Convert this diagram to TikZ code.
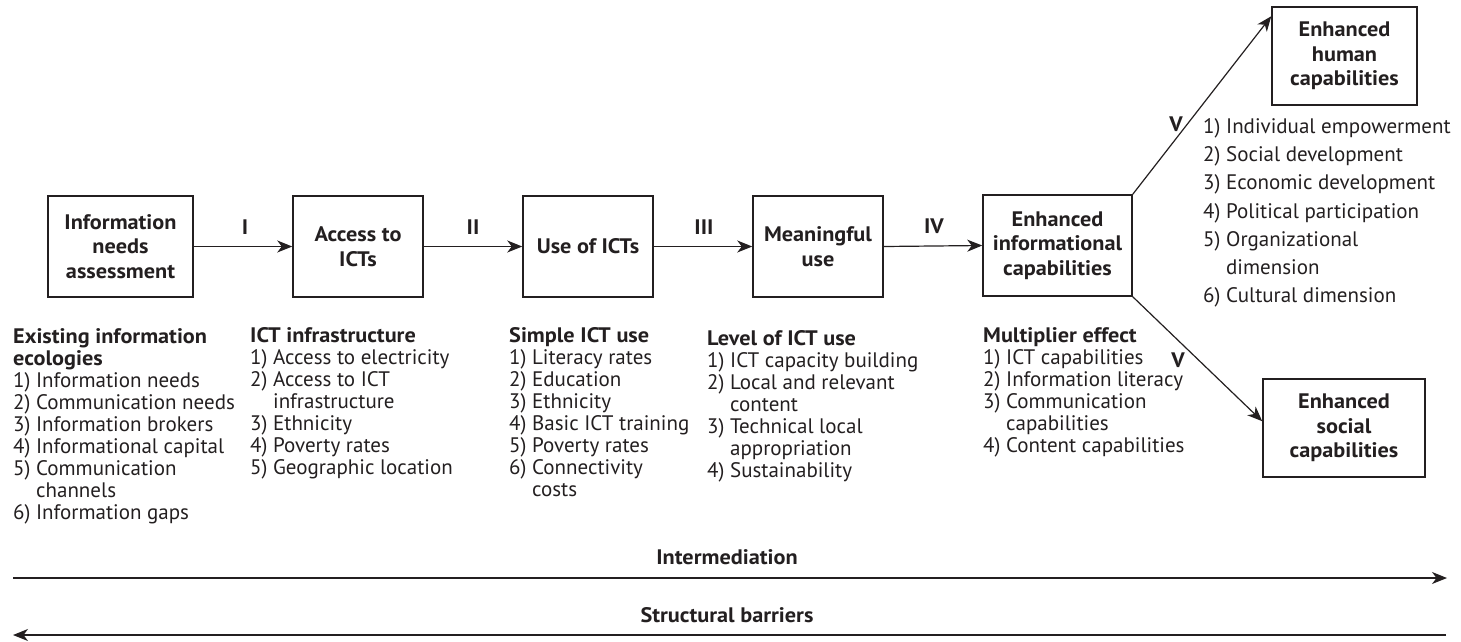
\documentclass[tikz,border=0pt]{standalone}
\usepackage{fontspec}
\setmainfont{PT Sans}[BoldFeatures={FakeStretch=1.06}]
\usetikzlibrary{arrows.meta,calc}
\definecolor{ink}{RGB}{35,31,32}
\newcommand{\boxfont}{\fontsize{21}{24.5}\selectfont\bfseries}
\newcommand{\lstfont}{\fontsize{21}{22}\selectfont}
\newcommand{\rlstfont}{\fontsize{21}{28.3}\selectfont}
\newcommand{\hi}{\hphantom{5)}\ }
\tikzset{
  box/.style={draw, line width=1.5pt, inner sep=0pt, align=center, font=\boxfont},
  lst/.style={anchor=north west, inner sep=0pt, align=left, font=\lstfont},
  rlst/.style={anchor=north west, inner sep=0pt, align=left, font=\rlstfont},
  arr/.style={line width=1.2pt, -{Stealth[length=15pt,width=12pt,inset=4.5pt]}},
  lbl/.style={font=\boxfont, inner sep=0pt},
}
\begin{document}
\begin{tikzpicture}[x=1pt,y=-1pt,color=ink,text=ink]
\useasboundingbox (0,0) rectangle (1461,641);
% boxes
\node[box, minimum width=145pt, minimum height=101pt] (b1) at (120.5,246.5) {Information\\needs\\assessment};
\node[box, minimum width=130pt, minimum height=101pt] (b2) at (358,246.5) {Access to\\ICTs};
\node[box, minimum width=130pt, minimum height=101pt] (b3) at (588,246.5) {Use of ICTs};
\node[box, minimum width=130pt, minimum height=101pt] (b4) at (818,246.5) {Meaningful\\use};
\node[box, minimum width=149pt, minimum height=101pt] (b5) at (1057.5,245.5) {Enhanced\\informational\\capabilities};
\node[box, minimum width=145pt, minimum height=98pt] (b6) at (1344.5,56) {Enhanced\\human\\capabilities};
\node[box, minimum width=162pt, minimum height=98pt] (b7) at (1344,428) {Enhanced\\social\\capabilities};
% connectors
\draw[arr] (b1.east) -- (b2.west);
\draw[arr] (b2.east) -- (b3.west);
\draw[arr] (b3.east) -- (b4.west);
\draw[arr] (b4.east) -- (b5.west);
\draw[arr] (b5.north east) -- ($(b6.north west)+(0,10)$);
\draw[arr] (b5.south east) -- ($(b7.north west)+(0,43)$);
% arrow labels
\node[lbl] (l1) at (245,227) {I};
\node[lbl] (l2) at (473,227) {II};
\node[lbl] (l3) at (704,227) {III};
\node[lbl] (l4) at (934,226) {IV};
\node[lbl] (l5) at (1176,124) {V};
\node[lbl] (l6) at (1178,360) {V};
% lists
\node[lst] (t1) at (13,328.5) {\textbf{Existing information}\\\textbf{ecologies}\\1) Information needs\\2) Communication needs\\3) Information brokers\\4) Informational capital\\5) Communication\\\hi channels\\6) Information gaps};
\node[lst] (t2) at (250,327.5) {\textbf{ICT infrastructure}\\1) Access to electricity\\2) Access to ICT\\\hi infrastructure\\3) Ethnicity\\4) Poverty rates\\5) Geographic location};
\node[lst] (t3) at (509,327.5) {\textbf{Simple ICT use}\\1) Literacy rates\\2) Education\\3) Ethnicity\\4) Basic ICT training\\5) Poverty rates\\6) Connectivity\\\hi costs};
\node[lst] (t4) at (707,330.5) {\textbf{Level of ICT use}\\1) ICT capacity building\\2) Local and relevant\\\hi content\\3) Technical local\\\hi appropriation\\4) Sustainability};
\node[lst] (t5) at (983,327.5) {\textbf{Multiplier effect}\\1) ICT capabilities\\2) Information literacy\\3) Communication\\\hi capabilities\\4) Content capabilities};
\node[rlst] (t6) at (1203,118) {1) Individual empowerment\\2) Social development\\3) Economic development\\4) Political participation\\5) Organizational\\\hi dimension\\6) Cultural dimension};
% bottom arrows
\coordinate (i1) at (13,578);
\coordinate (i2) at (1447,578);
\coordinate (s1) at (1446,635);
\coordinate (s2) at (13,635);
\draw[arr] (i1) -- (i2);
\draw[arr] (s1) -- (s2);
\node[lbl] (im) at (727,557) {Intermediation};
\node[lbl] (sb) at (727,615) {Structural barriers};
\end{tikzpicture}
\end{document}
